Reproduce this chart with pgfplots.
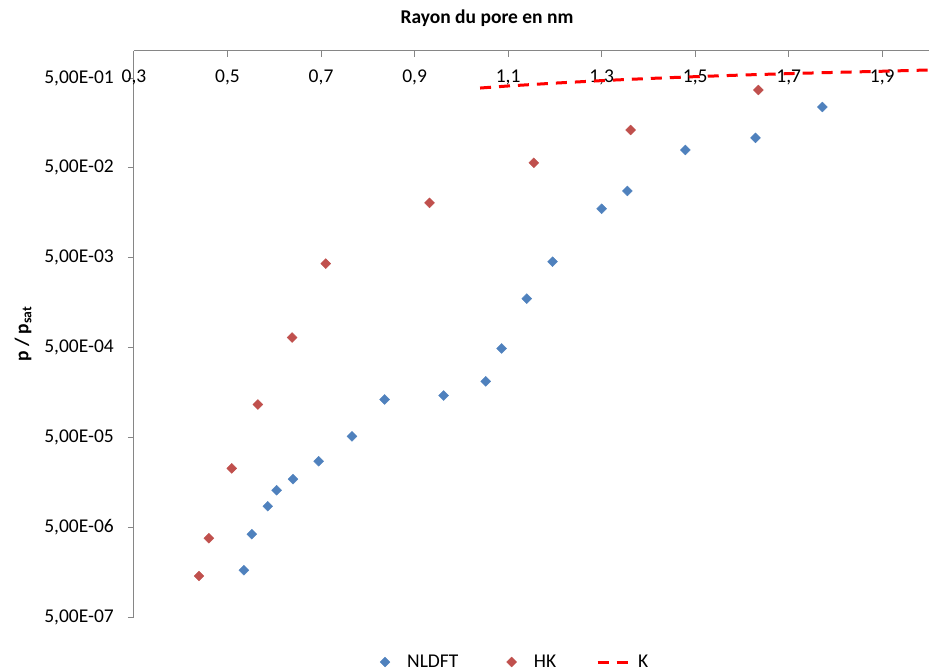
\documentclass[border=0pt]{standalone}
\usepackage{pgfplots}
\pgfplotsset{compat=1.18}
\usepackage{fontspec}
\setmainfont{Carlito}
\definecolor{nldft}{HTML}{4F81BD}
\definecolor{hk}{HTML}{C0504D}
\definecolor{axgray}{HTML}{868686}
\newcommand{\fs}{\fontsize{19.5}{23}\selectfont}
\pgfplotsset{
  markleg/.style={legend image code/.code={\path (0pt,0pt) (26pt,0pt); \draw[##1] plot coordinates {(13pt,0pt)};}},
  lineleg/.style={legend image code/.code={\draw[##1] (0pt,0pt) -- (30pt,0pt);}},
}

\begin{document}
\begin{tikzpicture}
\useasboundingbox (-134pt,-51pt) rectangle (795pt,617pt);
\begin{axis}[
  at={(0,0)}, anchor=south west,
  scale only axis, width=795pt, height=566pt,
  xmin=0.3, xmax=2.0, ymin=5e-7, ymax=1,
  ymode=log,
  axis x line*=top, axis y line*=left,
  axis line style={-, draw=axgray, line width=1pt},
  tick style={draw=axgray, line width=1pt},
  tick align=inside, major tick length=6pt,
  ytick style={xshift=-6pt},
  minor tick num=0, yminorticks=false,
  xtick={0.3,0.5,0.7,0.9,1.1,1.3,1.5,1.7,1.9},
  xticklabels={{0,3},{0,5},{0,7},{0,9},{1,1},{1,3},{1,5},{1,7},{1,9}},
  ytick={5e-7,5e-6,5e-5,5e-4,5e-3,5e-2,5e-1},
  yticklabels={{5,00E-07},{5,00E-06},{5,00E-05},{5,00E-04},{5,00E-03},{5,00E-02},{5,00E-01}},
  xticklabel style={font=\fs, anchor=center, inner sep=0pt, yshift=-26pt},
  yticklabel style={font=\fs, anchor=east, inner sep=0pt, xshift=-20pt},
  title={\bfseries Rayon du pore en nm},
  title style={font=\fs, at={(axis description cs:0.444,1)}, anchor=base, inner sep=0pt, yshift=21pt},
  ylabel={\bfseries p / p\textsubscript{sat}},
  ylabel style={font=\fs, at={(axis description cs:-0.133,0.5)}, anchor=base, inner sep=0pt},
  legend columns=3,
  legend style={draw=none, fill=none, font=\fs, inner sep=0pt,
    nodes={inner sep=0pt},
    at={(axis description cs:0.473,0)}, anchor=center, yshift=-45pt,
    /tikz/every odd column/.append style={column sep=9pt},
    /tikz/every even column/.append style={column sep=40pt}},
]
\addplot[only marks, color=nldft, mark=square*, mark size=3.5pt,
  mark options={rotate=45, fill=nldft, draw=nldft}, markleg]
  coordinates {
  (0.535,1.66e-6) (0.552,4.18e-6) (0.586,8.55e-6) (0.605,1.29e-5)
  (0.640,1.71e-5) (0.695,2.71e-5) (0.766,5.13e-5) (0.836,1.32e-4)
  (0.962,1.46e-4) (1.052,2.10e-4) (1.086,4.88e-4) (1.140,1.75e-3)
  (1.195,4.51e-3) (1.300,1.75e-2) (1.355,2.77e-2) (1.479,7.92e-2)
  (1.629,0.108) (1.772,0.238)
  };
\addlegendentry{NLDFT}
\addplot[only marks, color=hk, mark=square*, mark size=3.5pt,
  mark options={rotate=45, fill=hk, draw=hk}, markleg]
  coordinates {
  (0.439,1.43e-6) (0.460,3.77e-6) (0.509,2.26e-5) (0.565,1.16e-4)
  (0.638,6.46e-4) (0.710,4.29e-3) (0.932,2.04e-2) (1.155,5.69e-2)
  (1.362,0.132) (1.635,0.368)
  };
\addlegendentry{HK}
\addplot[red, line width=3pt, dash pattern=on 11pt off 8pt, no marks, lineleg]
  coordinates {
  (1.04,0.387) (1.1,0.408) (1.2,0.439) (1.3,0.468) (1.4,0.494)
  (1.5,0.518) (1.6,0.540) (1.7,0.560) (1.8,0.578) (1.9,0.595) (2.0,0.615)
  };
\addlegendentry{K}
\end{axis}
\end{tikzpicture}
\end{document}
